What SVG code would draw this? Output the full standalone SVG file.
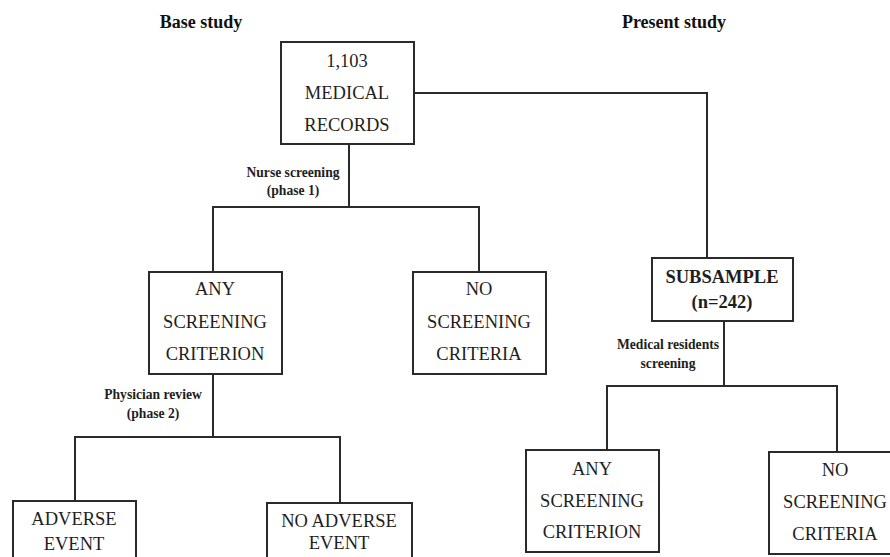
<svg xmlns="http://www.w3.org/2000/svg" width="890" height="557" viewBox="0 0 890 557">
<style>
.box{fill:#fff;stroke:#2a2a2a;stroke-width:2}
.t{font-family:'Liberation Serif','DejaVu Serif',serif;font-size:18.5px;fill:#1e1e1e;text-anchor:middle}
.b{font-weight:bold}
.lbl{font-family:'Liberation Serif','DejaVu Serif',serif;font-size:13.6px;font-weight:bold;fill:#1e1e1e;text-anchor:middle}
.hd{font-family:'Liberation Serif','DejaVu Serif',serif;font-size:18px;font-weight:bold;fill:#111;text-anchor:middle}
.c{fill:none;stroke:#2a2a2a;stroke-width:2}
</style>
<rect width="890" height="557" fill="#fff"/>
<text class="hd" x="201" y="28">Base study</text>
<text class="hd" x="674" y="28">Present study</text>
<g id="connectors">
<polyline class="c" points="349,144 349,207"/>
<polyline class="c" points="213,272 213,207 479,207 479,272"/>
<polyline class="c" points="414,93 707,93 707,258"/>
<polyline class="c" points="213,374 213,437"/>
<polyline class="c" points="75,501 75,437 340,437 340,503"/>
<polyline class="c" points="724,321 724,386"/>
<polyline class="c" points="607,450 607,386 837,386 837,452"/>
<text class="lbl" x="293" y="177">Nurse screening</text>
<text class="lbl" x="293" y="195">(phase 1)</text>
<text class="lbl" x="153" y="399">Physician review</text>
<text class="lbl" x="153" y="418">(phase 2)</text>
<text class="lbl" x="668" y="349">Medical residents</text>
<text class="lbl" x="668" y="368">screening</text>
</g>
<g id="records">
<rect class="box" x="281" y="42" width="133" height="102"/>
<text class="t" x="347" y="67">1,103</text>
<text class="t" x="347" y="99">MEDICAL</text>
<text class="t" x="347" y="131">RECORDS</text>
</g>
<g id="any-base">
<rect class="box" x="149" y="272" width="133" height="102"/>
<text class="t" x="215" y="295">ANY</text>
<text class="t" x="215" y="328">SCREENING</text>
<text class="t" x="215" y="360">CRITERION</text>
</g>
<g id="no-base">
<rect class="box" x="413" y="272" width="133" height="102"/>
<text class="t" x="479" y="295">NO</text>
<text class="t" x="479" y="328">SCREENING</text>
<text class="t" x="479" y="360">CRITERIA</text>
</g>
<g id="adverse">
<rect class="box" x="13" y="501" width="123" height="70"/>
<text class="t" x="74" y="525">ADVERSE</text>
<text class="t" x="74" y="550">EVENT</text>
</g>
<g id="no-adverse">
<rect class="box" x="267" y="503" width="145" height="70"/>
<text class="t" x="339" y="527">NO ADVERSE</text>
<text class="t" x="339" y="549">EVENT</text>
</g>
<g id="subsample">
<rect class="box" x="652" y="258" width="141" height="63"/>
<text class="t b" x="722" y="283">SUBSAMPLE</text>
<text class="t b" x="722" y="308">(n=242)</text>
</g>
<g id="any-present">
<rect class="box" x="526" y="450" width="133" height="102"/>
<text class="t" x="592" y="475">ANY</text>
<text class="t" x="592" y="507">SCREENING</text>
<text class="t" x="592" y="538">CRITERION</text>
</g>
<g id="no-present">
<rect class="box" x="769" y="452" width="133" height="102"/>
<text class="t" x="835" y="476">NO</text>
<text class="t" x="835" y="508">SCREENING</text>
<text class="t" x="835" y="540">CRITERIA</text>
</g>
</svg>
